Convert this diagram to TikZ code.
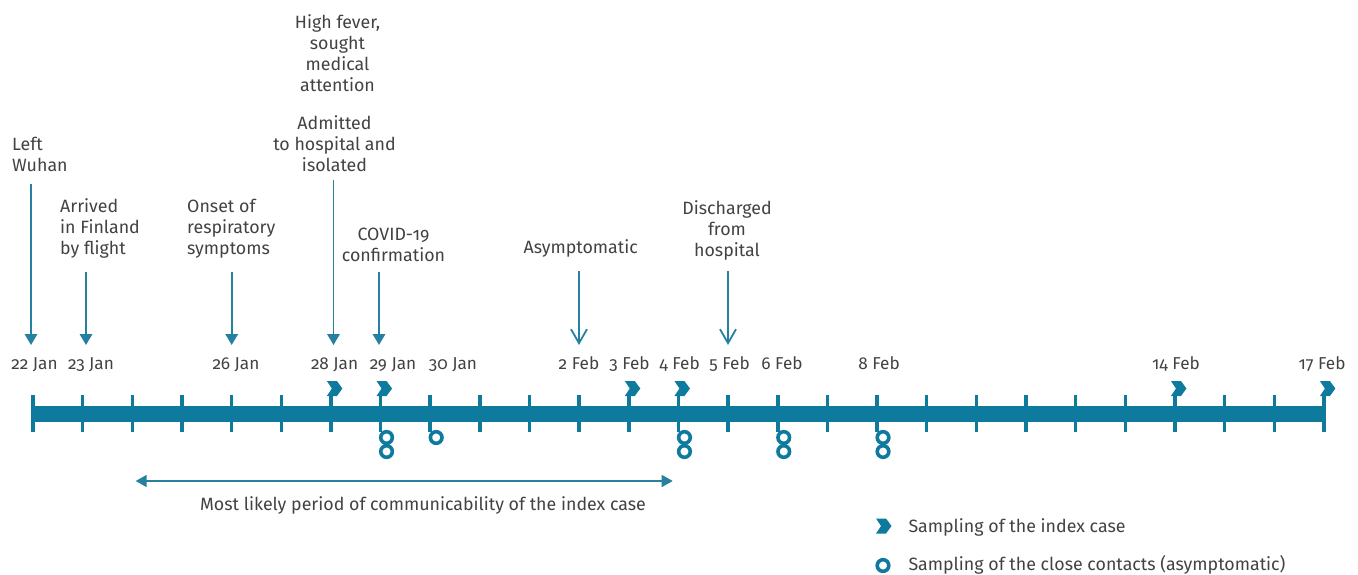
\documentclass[tikz,border=0pt]{standalone}
\usepackage{fontspec}
\setmainfont{Fira Sans}[Numbers=OldStyle]
\usetikzlibrary{arrows.meta}
\definecolor{tealbar}{RGB}{14,122,158}
\definecolor{arrcol}{RGB}{38,128,160}
\definecolor{txtcol}{RGB}{66,66,66}
\newcommand{\mlines}[2][c]{\begin{tabular}[t]{@{}#1@{}}#2\end{tabular}}
\begin{document}
\begin{tikzpicture}[x=1pt,y=-1pt,
  lbl/.style={inner sep=0pt,text=txtcol,font=\fontsize{17.8}{21}\selectfont},
  datelbl/.style={inner sep=0pt,text=txtcol,font=\fontsize{17.2}{21}\selectfont},
  evarrow/.style={draw=arrcol,line width=1.8pt,-{Triangle[width=12.5pt,length=11pt]}},
  openarrow/.style={draw=arrcol,line width=1.8pt,-{Straight Barb[width=16pt,length=14pt,line width=1.8pt]}},
  perarrow/.style={draw=arrcol,line width=1.5pt,{Triangle[width=12pt,length=11pt]}-{Triangle[width=12pt,length=11pt]}},
  tickline/.style={draw=tealbar,line width=3.5pt},
  ring/.style={draw=tealbar,line width=3.6pt},
  chev/.pic={\fill[tealbar] (-4,-15)--(6,-15)--(11.5,-7.5)--(6,0)--(-4,0)--(1,-7.5)--cycle;}
]
\useasboundingbox (0,0) rectangle (1358,574);

% main bar and ticks
\fill[tealbar] (31,405.5) rectangle (1325,421.5);
\foreach \i in {0,...,26} {
  \coordinate (t\i) at ({33+49.65*\i},413.5);
  \draw[tickline] ({33+49.65*\i},395) -- ({33+49.65*\i},432);
}

% index case samplings
\foreach \i in {6,7,12,13,23,26} {
  \pic at ({33+49.65*\i},396) {chev};
}
% close contact samplings
\foreach \i/\n in {7/2,8/1,13/2,15/2,17/2} {
  \draw[ring] ({39+49.65*\i},437.5) circle (5.8);
  \ifnum\n=2
    \draw[ring] ({39+49.65*\i},451.5) circle (5.8);
  \fi
}

% date labels
\foreach \x/\t [count=\k] in {34.5/22 Jan,91/23 Jan,236/26 Jan,334.6/28 Jan,393/29 Jan,453/30 Jan,579/2 Feb,629.5/3 Feb,679.5/4 Feb,729.5/5 Feb,782/6 Feb,879/8 Feb,1176/14 Feb,1322/17 Feb} {
  \node[datelbl,anchor=base] (d\k) at (\x,369) {\t};
}

% events
\node[lbl,anchor=base west] (ev1) at (12,150.7) {\mlines[l]{Left\\Wuhan}};
\coordinate (a1s) at (31,184); \coordinate (a1e) at (31,345);
\draw[evarrow] (a1s) -- (a1e);

\node[lbl,anchor=base west] (ev2) at (60,212.7) {\mlines[l]{Arrived\\in Finland\\by flight}};
\coordinate (a2s) at (86,272); \coordinate (a2e) at (86,345);
\draw[evarrow] (a2s) -- (a2e);

\node[lbl,anchor=base west] (ev3) at (187,212.7) {\mlines[l]{Onset of\\respiratory\\symptoms}};
\coordinate (a3s) at (231.7,272); \coordinate (a3e) at (231.7,345);
\draw[evarrow] (a3s) -- (a3e);

\node[lbl,anchor=base] (ev4) at (337.5,28.3) {\mlines{High fever,\\sought\\medical\\attention}};
\node[lbl,anchor=base] (ev5) at (334.5,129.3) {\mlines{Admitted\\to hospital and\\isolated}};
\coordinate (a4s) at (333.5,180); \coordinate (a4e) at (333.5,345);
\draw[evarrow] (a4s) -- (a4e);

\node[lbl,anchor=base] (ev6) at (393.5,240.7) {\mlines{COVID-19\\confirmation}};
\coordinate (a6s) at (379,272); \coordinate (a6e) at (379,345);
\draw[evarrow] (a6s) -- (a6e);

\node[lbl,anchor=base] (ev7) at (580.7,253) {Asymptomatic};
\coordinate (a7s) at (579,271); \coordinate (a7e) at (579,345);
\draw[openarrow] (a7s) -- (a7e);

\node[lbl,anchor=base] (ev8) at (727,214.7) {\mlines{Discharged\\from\\hospital}};
\coordinate (a8s) at (728,271); \coordinate (a8e) at (728,345);
\draw[openarrow] (a8s) -- (a8e);

% period of communicability
\coordinate (p1) at (135.7,481); \coordinate (p2) at (672.7,481);
\draw[perarrow] (p1) -- (p2);
\node[lbl,anchor=base] (per) at (423,510) {Most likely period of communicability of the index case};

% legend
\pic at (880,533.5) {chev};
\node[lbl,anchor=base west] (leg1) at (908.3,532.3) {Sampling of the index case};
\draw[ring] (883,565.5) circle (5.8);
\node[lbl,anchor=base west] (leg2) at (908.3,570.5) {Sampling of the close contacts (asymptomatic)};
\end{tikzpicture}
\end{document}
